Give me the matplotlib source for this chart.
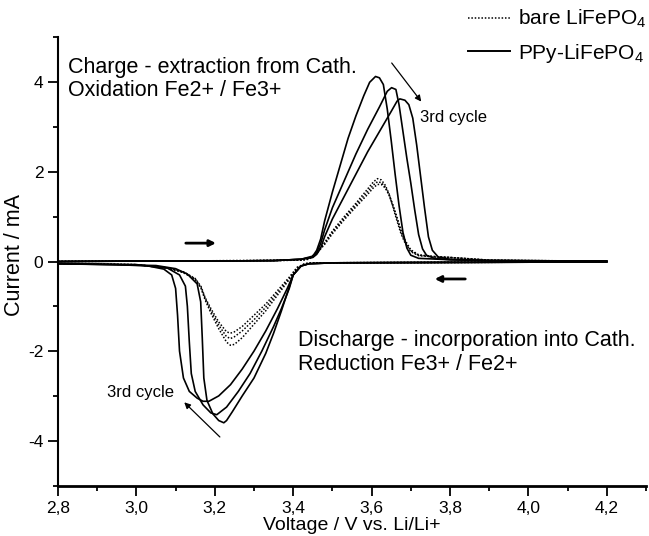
import matplotlib
matplotlib.use("Agg")
import matplotlib.pyplot as plt
from matplotlib.lines import Line2D

plt.rcParams['font.family'] = ['Liberation Sans', 'DejaVu Sans']
plt.rcParams['mathtext.default'] = 'regular'

# ---- PPy-LiFePO4, anodic sweeps (V up) ----
ppy_an1_v = [2.80, 3.00, 3.20, 3.35, 3.42, 3.45, 3.46, 3.47, 3.48, 3.50, 3.52, 3.54, 3.56, 3.58, 3.595, 3.61, 3.62,
             3.63, 3.64, 3.65, 3.66, 3.67, 3.68, 3.69, 3.70, 3.72, 3.80, 3.90, 4.20]
ppy_an1_i = [0.00, 0.01, 0.01, 0.02, 0.05, 0.12, 0.25, 0.50, 0.90, 1.55, 2.15, 2.75, 3.25, 3.70, 4.00, 4.13, 4.10,
             3.95, 3.40, 2.70, 1.95, 1.25, 0.65, 0.30, 0.14, 0.07, 0.04, 0.02, 0.01]
ppy_an2_v = [2.80, 3.00, 3.20, 3.35, 3.42, 3.45, 3.46, 3.47, 3.48, 3.50, 3.53, 3.56, 3.59, 3.62, 3.64, 3.651, 3.662,
             3.67, 3.68, 3.69, 3.70, 3.71, 3.72, 3.73, 3.74, 3.76, 3.80, 3.90, 4.20]
ppy_an2_i = [0.00, 0.01, 0.01, 0.02, 0.05, 0.10, 0.20, 0.40, 0.70, 1.20, 1.80, 2.40, 2.95, 3.45, 3.80, 3.88, 3.84,
             3.50, 2.90, 2.30, 1.75, 1.15, 0.60, 0.28, 0.14, 0.07, 0.04, 0.02, 0.01]
ppy_an3_v = [2.80, 3.00, 3.20, 3.35, 3.42, 3.45, 3.46, 3.47, 3.48, 3.50, 3.53, 3.56, 3.59, 3.62, 3.65, 3.665, 3.672,
             3.685, 3.695, 3.705, 3.715, 3.725, 3.735, 3.745, 3.755, 3.77, 3.80, 3.90, 4.20]
ppy_an3_i = [0.00, 0.01, 0.01, 0.02, 0.05, 0.09, 0.16, 0.30, 0.55, 0.95, 1.45, 1.95, 2.45, 2.90, 3.35, 3.58, 3.63,
             3.60, 3.50, 3.20, 2.60, 1.90, 1.20, 0.55, 0.25, 0.10, 0.05, 0.02, 0.01]

# ---- PPy-LiFePO4, cathodic sweeps (V down) ----
ppy_ca1_v = [4.20, 3.80, 3.50, 3.44, 3.42, 3.40, 3.385, 3.37, 3.35, 3.33, 3.30, 3.27, 3.245, 3.23, 3.223, 3.21,
             3.195, 3.18, 3.172, 3.168, 3.164, 3.155, 3.13, 3.10, 3.05, 2.80]
ppy_ca1_i = [-0.01, -0.02, -0.03, -0.05, -0.10, -0.30, -0.70, -1.10, -1.60, -2.05, -2.60, -3.00, -3.35, -3.55,
             -3.60, -3.55, -3.40, -3.10, -2.60, -1.70, -0.90, -0.50, -0.28, -0.16, -0.09, -0.05]
ppy_ca2_v = [4.20, 3.80, 3.50, 3.44, 3.42, 3.40, 3.39, 3.37, 3.35, 3.32, 3.29, 3.26, 3.23, 3.205, 3.19, 3.17,
             3.15, 3.14, 3.135, 3.13, 3.125, 3.11, 3.08, 3.00, 2.80]
ppy_ca2_i = [-0.01, -0.02, -0.03, -0.05, -0.10, -0.30, -0.60, -1.05, -1.45, -2.00, -2.50, -2.90, -3.25, -3.42,
             -3.38, -3.20, -2.90, -2.50, -1.80, -1.00, -0.55, -0.30, -0.15, -0.07, -0.05]
ppy_ca3_v = [4.20, 3.80, 3.50, 3.44, 3.42, 3.40, 3.385, 3.36, 3.33, 3.30, 3.27, 3.24, 3.21, 3.185, 3.17, 3.155,
             3.135, 3.12, 3.11, 3.105, 3.10, 3.09, 3.07, 3.03, 2.95, 2.80]
ppy_ca3_i = [-0.01, -0.02, -0.03, -0.05, -0.10, -0.30, -0.60, -1.05, -1.55, -2.00, -2.40, -2.75, -3.00, -3.12,
             -3.12, -3.05, -2.90, -2.60, -2.00, -1.20, -0.60, -0.30, -0.17, -0.10, -0.07, -0.05]

# ---- bare LiFePO4 (three cycles, nearly overlapping) ----
bare_an_v = [2.80, 3.00, 3.30, 3.42, 3.44, 3.46, 3.48, 3.50, 3.53, 3.56, 3.59, 3.605, 3.615, 3.625, 3.635, 3.645,
             3.655, 3.665, 3.675, 3.685, 3.70, 3.72, 3.76, 3.80, 3.85, 3.90, 4.00, 4.20]
bare_an1_i = [0.00, 0.01, 0.02, 0.03, 0.06, 0.20, 0.42, 0.68, 1.00, 1.30, 1.62, 1.78, 1.85, 1.82, 1.70, 1.50,
              1.20, 0.90, 0.62, 0.42, 0.22, 0.13, 0.10, 0.09, 0.06, 0.03, 0.02, 0.01]
bare_an2_i = [0.00, 0.01, 0.02, 0.03, 0.06, 0.19, 0.40, 0.65, 0.97, 1.26, 1.56, 1.71, 1.78, 1.76, 1.66, 1.48,
              1.22, 0.95, 0.66, 0.45, 0.24, 0.14, 0.11, 0.09, 0.06, 0.03, 0.02, 0.01]
bare_an3_i = [0.00, 0.01, 0.02, 0.03, 0.05, 0.18, 0.38, 0.62, 0.93, 1.22, 1.50, 1.65, 1.72, 1.72, 1.64, 1.48,
              1.25, 0.98, 0.70, 0.48, 0.26, 0.15, 0.11, 0.09, 0.06, 0.03, 0.02, 0.01]
bare_ca_v = [4.20, 3.80, 3.45, 3.43, 3.41, 3.39, 3.36, 3.33, 3.30, 3.27, 3.25, 3.24, 3.23, 3.21, 3.19, 3.175,
             3.165, 3.15, 3.12, 3.08, 3.00, 2.80]
bare_ca1_i = [-0.01, -0.02, -0.03, -0.05, -0.15, -0.40, -0.75, -1.10, -1.40, -1.70, -1.85, -1.87, -1.80, -1.50,
              -1.15, -0.85, -0.60, -0.40, -0.25, -0.15, -0.07, -0.04]
bare_ca2_i = [-0.01, -0.02, -0.03, -0.05, -0.14, -0.38, -0.70, -1.02, -1.30, -1.55, -1.68, -1.72, -1.68, -1.42,
              -1.10, -0.82, -0.58, -0.39, -0.24, -0.14, -0.07, -0.04]
bare_ca3_i = [-0.01, -0.02, -0.03, -0.05, -0.13, -0.35, -0.65, -0.95, -1.20, -1.45, -1.57, -1.60, -1.57, -1.35,
              -1.05, -0.80, -0.56, -0.38, -0.23, -0.14, -0.07, -0.04]

xticks = [2.8, 3.0, 3.2, 3.4, 3.6, 3.8, 4.0, 4.2]
xtick_labels = ['2,8', '3,0', '3,2', '3,4', '3,6', '3,8', '4,0', '4,2']
yticks = [-4, -2, 0, 2, 4]
ytick_labels = ['-4', '-2', '0', '2', '4']

fig = plt.figure(figsize=(6.49, 5.36), dpi=100)
ax = fig.add_axes([58 / 649, 1 - 485.5 / 536, 588 / 649, 448 / 536])

for v, i in [(ppy_an1_v, ppy_an1_i), (ppy_an2_v, ppy_an2_i), (ppy_an3_v, ppy_an3_i),
             (ppy_ca1_v, ppy_ca1_i), (ppy_ca2_v, ppy_ca2_i), (ppy_ca3_v, ppy_ca3_i)]:
    ax.plot(v, i, color='black', lw=1.2)

for i in [bare_an1_i, bare_an2_i, bare_an3_i]:
    ax.plot(bare_an_v, i, color='black', lw=1.1, ls=(0, (1, 1.2)))
for i in [bare_ca1_i, bare_ca2_i, bare_ca3_i]:
    ax.plot(bare_ca_v, i, color='black', lw=1.1, ls=(0, (1, 1.2)))

ax.set_xlim(2.8, 4.3)
ax.set_ylim(-5, 5)
ax.spines['top'].set_visible(False)
ax.spines['right'].set_visible(False)
ax.spines['left'].set_linewidth(1.5)
ax.spines['bottom'].set_linewidth(2.0)

ax.set_xticks(xticks)
ax.set_xticklabels(xtick_labels)
ax.set_xticks([2.9, 3.1, 3.3, 3.5, 3.7, 3.9, 4.1, 4.3], minor=True)
ax.set_yticks(yticks)
ax.set_yticklabels(ytick_labels)
ax.set_yticks([-5, -3, -1, 1, 3, 5], minor=True)
ax.tick_params(which='major', direction='out', length=7, width=1.3, labelsize=12.5)
ax.tick_params(which='minor', direction='out', length=3.6, width=1.3)
ax.tick_params(axis='x', which='major', pad=4)
ax.tick_params(axis='y', which='major', pad=3.5)

ax.set_xlabel('Voltage / V vs. Li/Li+', fontsize=14)
ax.set_ylabel('Current / mA', fontsize=15.5)
ax.xaxis.set_label_coords(0.5, -0.071)
ax.yaxis.set_label_coords(-0.056, 0.514)

ax.text(2.826, 4.33, 'Charge - extraction from Cath.', fontsize=15.5, va='center')
ax.text(2.826, 3.82, 'Oxidation Fe2+ / Fe3+', fontsize=15.5, va='center')
ax.text(3.413, -1.76, 'Discharge - incorporation into Cath.', fontsize=15.5, va='center')
ax.text(3.413, -2.29, 'Reduction Fe3+ / Fe2+', fontsize=15.5, va='center')
ax.text(3.723, 3.21, '3rd cycle', fontsize=12, va='center')
ax.text(3.096, -2.93, '3rd cycle', fontsize=12, va='center', ha='right')

ax.annotate('', xy=(3.731, 3.52), xytext=(3.647, 4.48),
            arrowprops=dict(arrowstyle='-|>', lw=0.9, color='black', mutation_scale=9))
ax.annotate('', xy=(3.117, -3.10), xytext=(3.218, -3.96),
            arrowprops=dict(arrowstyle='-|>', lw=0.9, color='black', mutation_scale=9))
ax.annotate('', xy=(3.21, 0.41), xytext=(3.119, 0.41),
            arrowprops=dict(arrowstyle='-|>', lw=2.0, color='black', mutation_scale=9))
ax.annotate('', xy=(3.754, -0.39), xytext=(3.846, -0.39),
            arrowprops=dict(arrowstyle='-|>', lw=2.0, color='black', mutation_scale=9))

handles = [Line2D([], [], color='black', lw=1.1, ls=(0, (1, 1.2))),
           Line2D([], [], color='black', lw=1.4)]
fig.legend(handles, ['bare LiFePO$_4$', 'PPy-LiFePO$_4$'], loc='upper left',
           bbox_to_anchor=(468 / 649, 1 - 8 / 536), frameon=False, fontsize=15,
           handlelength=2.0, handletextpad=0.4, labelspacing=0.55, borderpad=0, borderaxespad=0)

fig.savefig('out.png', dpi=100)
